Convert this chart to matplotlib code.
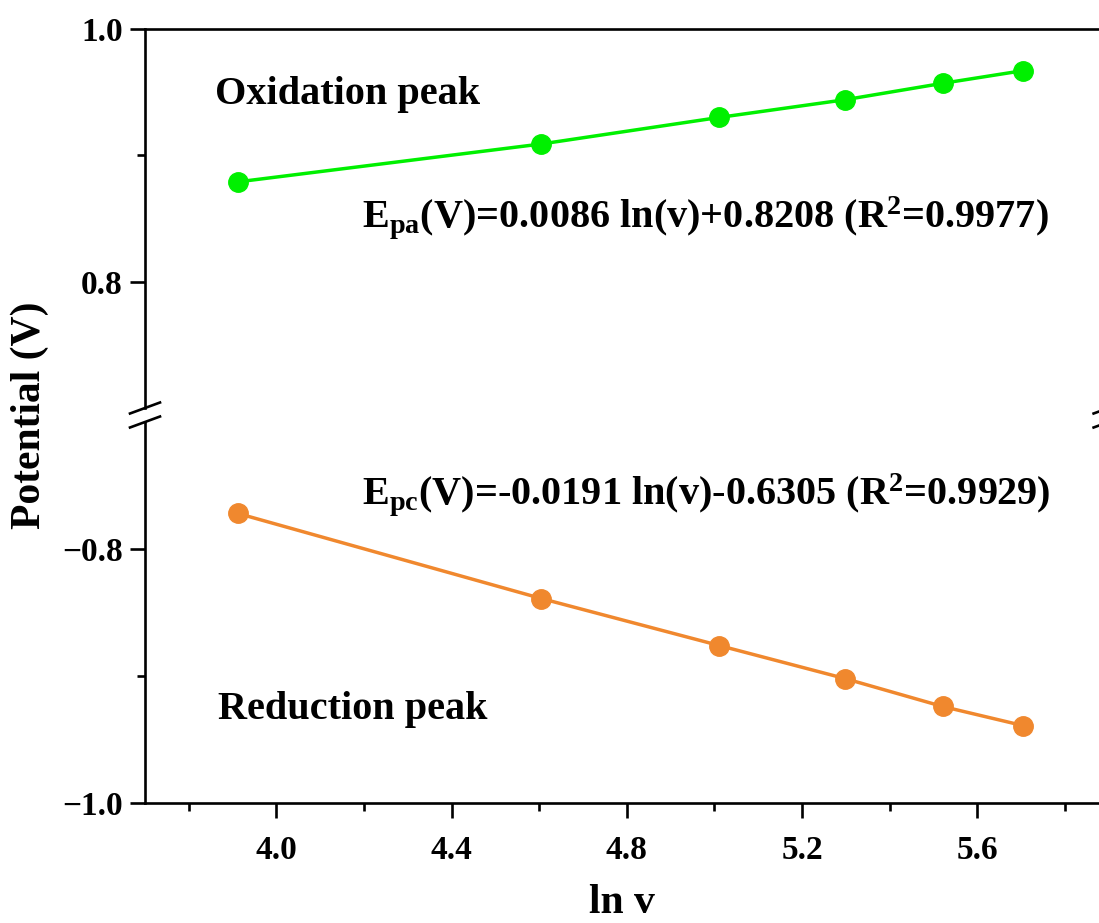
import matplotlib
matplotlib.use("Agg")
import matplotlib.pyplot as plt
from matplotlib.ticker import FixedLocator

plt.rcParams['font.family'] = ['Liberation Serif', 'DejaVu Serif']
plt.rcParams['font.weight'] = 'bold'
plt.rcParams['mathtext.fontset'] = 'custom'
plt.rcParams['mathtext.rm'] = 'Liberation Serif:bold'
plt.rcParams['mathtext.it'] = 'Liberation Serif:bold'
plt.rcParams['mathtext.bf'] = 'Liberation Serif:bold'

# Data
ln_v = [3.912, 4.605, 5.011, 5.298, 5.521, 5.704]
oxidation = [0.879, 0.909, 0.930, 0.944, 0.957, 0.967]
reduction = [-0.772, -0.839, -0.876, -0.902, -0.924, -0.939]
x_ticks = [4.0, 4.4, 4.8, 5.2, 5.6]
x_minor = [3.8, 4.2, 4.6, 5.0, 5.4, 5.8]
top_ticks = [0.8, 1.0]
bot_ticks = [-1.0, -0.8]
eq_ox = r"E$_{\rm pa}$(V)=0.0086 ln(v)+0.8208 (R$^{\rm 2}$=0.9977)"
eq_red = r"E$_{\rm pc}$(V)=-0.0191 ln(v)-0.6305 (R$^{\rm 2}$=0.9929)"

green = '#00F000'
orange = '#F0882E'

W, H = 1099, 923
fig = plt.figure(figsize=(W / 100, H / 100), dpi=100)

left = 145 / W
right = 1108.6 / W
ax_top = fig.add_axes([left, 1 - 408 / H, right - left, (408 - 29) / H])
ax_bot = fig.add_axes([left, 1 - 803 / H, right - left, (803 - 422) / H])

for ax in (ax_top, ax_bot):
    ax.set_xlim(3.7, 5.9)
    for s in ax.spines.values():
        s.set_linewidth(1.9)
    ax.tick_params(which='major', direction='out', length=11, width=1.9, labelsize=24)
    ax.tick_params(which='minor', direction='out', length=5.5, width=1.9)

ax_top.set_ylim(0.7, 1.0)
ax_bot.set_ylim(-1.0, -0.7)

ax_top.spines['bottom'].set_visible(False)
ax_bot.spines['top'].set_visible(False)
ax_top.tick_params(axis='x', which='both', bottom=False, labelbottom=False)
ax_top.tick_params(axis='y', which='both', right=False)
ax_bot.tick_params(axis='y', which='both', right=False)

ax_top.yaxis.set_major_locator(FixedLocator(top_ticks))
ax_top.yaxis.set_minor_locator(FixedLocator([0.9]))
ax_bot.yaxis.set_major_locator(FixedLocator(bot_ticks))
ax_bot.yaxis.set_minor_locator(FixedLocator([-0.9]))
ax_bot.xaxis.set_major_locator(FixedLocator(x_ticks))
ax_bot.xaxis.set_minor_locator(FixedLocator(x_minor))
ax_top.set_yticklabels(['0.8', '1.0'])
ax_bot.set_yticklabels(['\u22121.0', '\u22120.8'])
ax_bot.set_xticklabels([f"{t:.1f}" for t in x_ticks])
for ax in (ax_top, ax_bot):
    ax.tick_params(axis='x', pad=12)
    ax.tick_params(axis='y', pad=5)

ax_top.plot(ln_v, oxidation, '-o', color=green, lw=2.5, ms=14, clip_on=False, zorder=3)
ax_bot.plot(ln_v, reduction, '-o', color=orange, lw=2.5, ms=14, clip_on=False, zorder=3)

ax_top.text(3.86, 0.948, "Oxidation peak", fontsize=29, fontweight='bold', ha='left', va='center')
ax_top.text(4.195, 0.851, eq_ox, fontsize=29, fontweight='bold', ha='left', va='center')
ax_bot.text(4.195, -0.757, eq_red, fontsize=29, fontweight='bold', ha='left', va='center')
ax_bot.text(3.867, -0.926, "Reduction peak", fontsize=29, fontweight='bold', ha='left', va='center')

# break marks
for ax, yb in ((ax_top, 0.0), (ax_bot, 1.0)):
    for xb in (0.0, 1.0):
        fig_w = (right - left) * W
        fig_h = ax.get_position().height * H
        dx = 15 / fig_w
        dy = 5.5 / fig_h
        ax.plot([xb - dx, xb + dx], [yb - dy, yb + dy], transform=ax.transAxes,
                color='black', lw=1.9, clip_on=False)

fig.text(30 / W, 1 - 415 / H, "Potential (V)", rotation=90, fontsize=30,
         fontweight='bold', ha='center', va='center')
fig.text(622 / W, 1 - 903 / H, "ln v", fontsize=30, fontweight='bold',
         ha='center', va='center')

fig.savefig("out.png", dpi=100)
